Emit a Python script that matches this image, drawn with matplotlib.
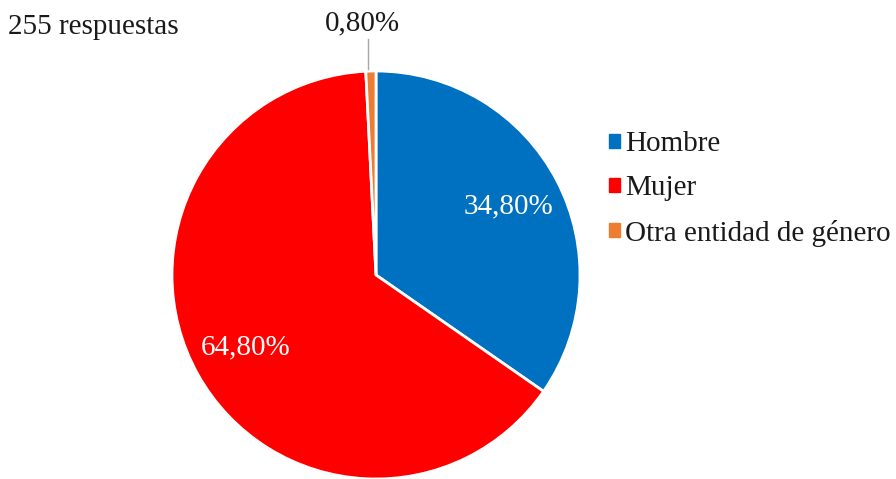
import numpy as np
import matplotlib.pyplot as plt

categories = ['Hombre', 'Mujer', 'Otra entidad de género']
values = [34.8, 64.8, 0.8]
colors = ['#0070C0', '#FF0000', '#ED7D31']
total_label = '255 respuestas'

plt.rcParams['font.family'] = ['Liberation Serif', 'DejaVu Serif']

fig = plt.figure(figsize=(8.96, 4.79), dpi=100)
ax = fig.add_axes([0, 0, 1, 1])

cx, cy, r = 376, 479 - 275, 204
wedges, _ = ax.pie(values, colors=colors, startangle=90, counterclock=False,
                   center=(cx, cy), radius=r, frame=True,
                   wedgeprops=dict(edgecolor='white', linewidth=2))
ax.set_xlim(0, 896)
ax.set_ylim(0, 479)
ax.set_aspect('equal')
ax.axis('off')


def fmt(v):
    return f'{v:.2f}'.replace('.', ',') + '%'


for w, v in zip(wedges, values):
    mid = np.deg2rad((w.theta1 + w.theta2) / 2)
    if v > 5:
        d = 0.73 * r
        ax.text(cx + d * np.cos(mid), cy + d * np.sin(mid), fmt(v),
                color='white', fontsize=21, ha='center', va='center')
    else:
        x0 = cx + r * np.cos(mid)
        ax.plot([x0 - 3, x0 - 3], [cy + r + 2, cy + r + 32], color='#a6a6a6', lw=1)
        ax.text(x0 - 8, cy + r + 48, fmt(v), color='#1a1a1a', fontsize=21,
                ha='center', va='center')

ax.text(8, 479 - 27, total_label, color='#1a1a1a', fontsize=21,
        ha='left', va='center')

handles = [plt.Rectangle((0, 0), 1, 1, color=c) for c in colors]
leg = ax.legend(handles, categories, loc='upper left', bbox_to_anchor=(609 / 896, 1 - 131 / 479),
                frameon=False, fontsize=21, handlelength=0.36, handleheight=0.36,
                handletextpad=0.2, labelspacing=0.63, borderaxespad=0, borderpad=0)
for t in leg.get_texts():
    t.set_color('#1a1a1a')

fig.savefig('out.png', dpi=100)
